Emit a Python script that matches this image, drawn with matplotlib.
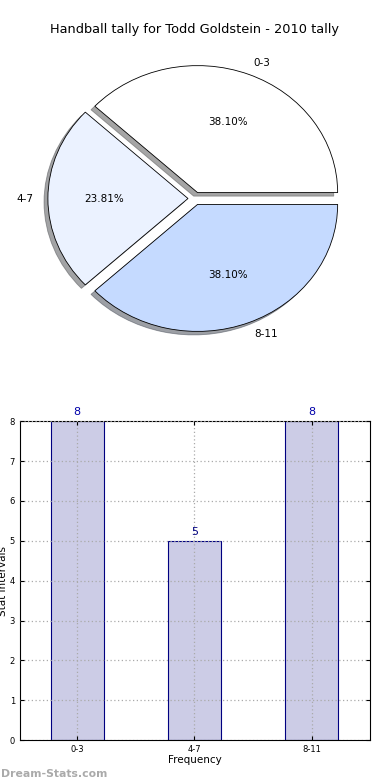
import matplotlib
matplotlib.use("Agg")
import matplotlib.pyplot as plt

# pie data
labels = ["0-3", "4-7", "8-11"]
counts = [8, 5, 8]
pie_colors = ["#FFFFFF", "#EBF2FF", "#C5DAFF"]
explode = [0.05, 0.05, 0.05]

# bar data
bar_values = [8, 5, 8]
value_colors = ["#0000AA", "#000080", "#0000AA"]
yticks = [0, 1, 2, 3, 4, 5, 6, 7, 8]

fig = plt.figure(figsize=(3.9, 7.8), dpi=100)

# Pie chart (elliptical, like old matplotlib)
ax1 = fig.add_axes([0.051, 0.542, 0.898, 0.407])
ax1.pie(
    counts,
    labels=labels,
    colors=pie_colors,
    explode=explode,
    autopct="%1.2f%%",
    shadow=True,
    wedgeprops={"edgecolor": "black", "linewidth": 0.6},
    textprops={"fontsize": 7.5},
)
ax1.set_aspect("auto")
ax1.set_title("Handball tally for Todd Goldstein - 2010 tally", fontsize=9.3, pad=5)

# Bar chart
ax2 = fig.add_axes([0.051, 0.051, 0.898, 0.409])
x = range(len(labels))
ax2.bar(x, bar_values, width=0.45, color="#CCCCE6", edgecolor="#000080", linewidth=0.8, zorder=2)
for xi, v, c in zip(x, bar_values, value_colors):
    ax2.text(xi, v + 0.1, str(v), ha="center", va="bottom", fontsize=8, color=c)
ax2.set_xlim(-0.49, 2.5)
ax2.set_ylim(0, 8)
ax2.set_xticks(list(x))
ax2.set_xticklabels(labels)
ax2.set_yticks(yticks)
ax2.tick_params(labelsize=6, length=3, direction="in", top=True, right=True)
ax2.grid(True, linestyle=(0, (1, 2)), color="#aaaaaa", linewidth=0.9, zorder=3)
ax2.set_axisbelow(False)
ax2.set_xlabel("Frequency", fontsize=7.5, labelpad=1)
ax2.set_ylabel("Stat Intervals", fontsize=7.5, labelpad=1)

fig.text(0.002, 0.004, "Dream-Stats.com", fontsize=7.8, color="#aaaaaa", fontweight="bold")

fig.savefig("out.png", dpi=100)
